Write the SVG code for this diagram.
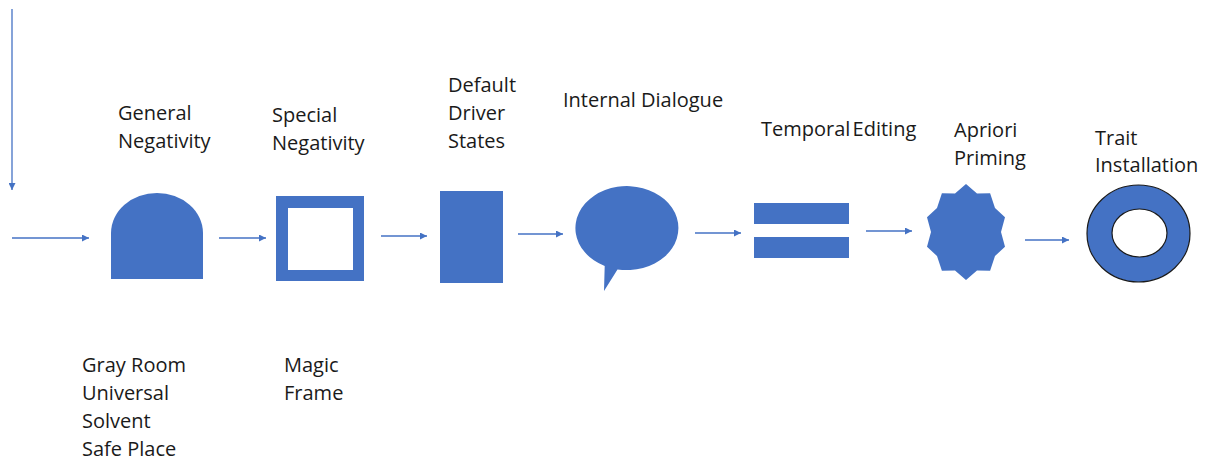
<svg xmlns="http://www.w3.org/2000/svg" width="1209" height="460" viewBox="0 0 1209 460">
<defs>
<marker id="ah" viewBox="0 0 10 10" refX="10" refY="5" markerWidth="8" markerHeight="7" markerUnits="userSpaceOnUse" orient="auto">
<path d="M0,0 L10,5 L0,10 Z" fill="#4472C4"/>
</marker>
<style>
.c{stroke:#4472C4;stroke-width:1.3;fill:none;marker-end:url(#ah)}
.s{fill:#4472C4}
text{font-family:"Open Sans","Noto Sans",sans-serif;font-size:20px;fill:#1a1a1a}
</style>
</defs>
<rect width="1209" height="460" fill="#fff"/>
<g id="connectors">
<line class="c" x1="12" y1="9" x2="12" y2="190"/>
<line class="c" x1="12" y1="238" x2="89" y2="238"/>
<line class="c" x1="219" y1="238" x2="266" y2="238"/>
<line class="c" x1="381" y1="236" x2="427" y2="236"/>
<line class="c" x1="518" y1="234" x2="563" y2="234"/>
<line class="c" x1="695" y1="233" x2="741" y2="233"/>
<line class="c" x1="866" y1="231" x2="912" y2="231"/>
<line class="c" x1="1025" y1="240" x2="1069" y2="240"/>
</g>
<g id="general-negativity">
<path class="s" d="M111 279 V233 A46 40 0 0 1 203 233 V279 Z"/>
<text x="118" y="120">General</text>
<text x="118" y="148">Negativity</text>
<text x="82" y="372">Gray Room</text>
<text x="82" y="400">Universal</text>
<text x="82" y="428">Solvent</text>
<text x="82" y="456">Safe Place</text>
</g>
<g id="special-negativity">
<path class="s" fill-rule="evenodd" d="M276 196 H364 V281 H276 Z M288 208 V270 H353 V208 Z"/>
<text x="272" y="122">Special</text>
<text x="272" y="150">Negativity</text>
<text x="284" y="372">Magic</text>
<text x="284" y="400">Frame</text>
</g>
<g id="default-driver-states">
<rect class="s" x="440" y="191" width="63" height="92"/>
<text x="448" y="92">Default</text>
<text x="448" y="120">Driver</text>
<text x="448" y="148">States</text>
</g>
<g id="internal-dialogue">
<path class="s" d="M617.5 269.4 L604 291 L604.7 266 A51.5 42 0 1 1 617.5 269.4 Z"/>
<text x="563" y="107">Internal Dialogue</text>
</g>
<g id="temporal-editing">
<rect class="s" x="754" y="203" width="95" height="21"/>
<rect class="s" x="754" y="237" width="95" height="21"/>
<text x="761" y="136" word-spacing="-3">Temporal Editing</text>
</g>
<g id="apriori-priming">
<polygon class="s" points="966,184 977,193.5 990.1,193.2 995,208 1005,217.2 1001,232 1005,246.8 995,256 990.1,270.8 977,270.5 966,280 955,270.5 941.9,270.8 937,256 927,246.8 931,232 927,217.2 937,208 941.9,193.2 955,193.5"/>
<text x="954" y="137">Apriori</text>
<text x="954" y="165">Priming</text>
</g>
<g id="trait-installation">
<path class="s" fill-rule="evenodd" stroke="#1a1a1a" stroke-width="1.2" d="M1087 233.5 A51.5 48.5 0 1 0 1190 233.5 A51.5 48.5 0 1 0 1087 233.5 Z M1112 233 A27.5 24 0 1 0 1167 233 A27.5 24 0 1 0 1112 233 Z"/>
<text x="1095" y="145">Trait</text>
<text x="1095" y="172">Installation</text>
</g>
</svg>
